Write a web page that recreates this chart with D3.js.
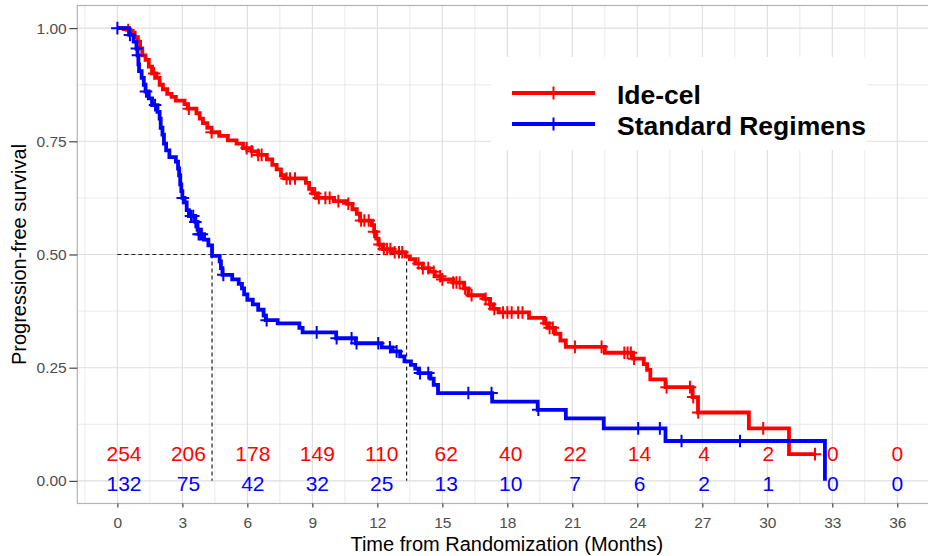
<!DOCTYPE html>
<html><head><meta charset="utf-8">
<script src="https://cdn.jsdelivr.net/npm/d3@7"></script>
<style>body{margin:0;background:#fff} svg{display:block;font-family:"Liberation Sans",Arial,sans-serif}</style>
</head><body><svg id="c" width="928" height="556"></svg>
<script>
// ---------------- data ----------------
const seriesNames = ["Ide-cel", "Standard Regimens"];
const seriesColors = ["#FF0000", "#0000FF"];

const ideTime = [0,0.45,0.6,0.8,0.95,1.05,1.15,1.3,1.45,1.6,1.8,1.95,2.1,2.3,2.5,2.7,3.1,3.25,3.65,3.8,3.95,4.15,4.35,4.7,5.1,5.5,5.8,6.2,6.5,6.9,7.15,7.35,7.55,7.7,8.7,8.85,9.0,9.2,10.0,10.6,10.85,11.05,11.2,11.75,11.85,11.95,12.05,12.25,12.7,13.3,13.5,13.75,14.1,14.4,14.65,14.95,15.5,16.0,16.2,16.9,17.2,17.35,17.6,19.0,19.7,19.9,20.2,20.45,20.7,22.5,23.8,24.3,24.45,24.6,25.3,26.55,26.8,29.15,31.0,32.2];
const ideSurv = [1,0.996,0.99,0.98,0.97,0.955,0.94,0.93,0.915,0.9,0.89,0.875,0.865,0.855,0.848,0.84,0.832,0.822,0.812,0.8,0.79,0.78,0.77,0.762,0.752,0.745,0.735,0.728,0.72,0.71,0.698,0.688,0.675,0.668,0.658,0.645,0.635,0.625,0.618,0.612,0.6,0.59,0.575,0.565,0.55,0.535,0.522,0.512,0.505,0.496,0.49,0.48,0.47,0.462,0.452,0.445,0.438,0.425,0.41,0.402,0.39,0.38,0.372,0.36,0.348,0.338,0.325,0.31,0.296,0.283,0.27,0.258,0.245,0.224,0.207,0.185,0.151,0.116,0.059,0.059];
const ideCensor = [0.5,1.7,3.3,4.35,5.97,6.2,6.5,6.66,7.81,7.97,8.2,9.13,9.3,9.6,9.8,10.2,10.66,11.25,11.4,11.6,11.85,12.1,12.3,12.45,12.6,12.8,13.0,13.15,13.9,14.1,14.35,14.6,14.9,15.0,15.5,15.65,15.8,16.05,16.35,17.0,17.2,17.4,17.8,18.0,18.2,18.5,18.7,19.8,19.95,20.1,21.12,22.35,23.4,23.55,23.7,23.85,25.35,26.43,26.58,26.81,29.81,32.2];

const stdTime = [0,0.55,0.75,0.88,0.93,0.97,1.0,1.12,1.22,1.3,1.45,1.6,1.85,1.95,2.0,2.08,2.15,2.25,2.4,2.7,2.8,2.85,2.9,2.95,3.0,3.1,3.2,3.3,3.6,3.7,3.75,4.0,4.2,4.37,4.72,4.78,4.85,5.3,5.6,5.75,5.85,6.0,6.25,6.5,6.75,6.85,7.4,8.4,8.55,10.1,11.0,12.2,12.7,13.05,13.25,13.55,13.75,13.9,14.45,14.6,14.8,17.3,19.4,20.7,22.45,25.3,32.66];
const stdSurv = [1,0.985,0.97,0.955,0.94,0.92,0.905,0.89,0.875,0.86,0.845,0.83,0.815,0.8,0.78,0.765,0.745,0.73,0.715,0.705,0.69,0.675,0.655,0.64,0.625,0.615,0.598,0.585,0.572,0.555,0.545,0.533,0.52,0.497,0.485,0.47,0.455,0.445,0.435,0.425,0.412,0.4,0.39,0.378,0.365,0.355,0.348,0.338,0.328,0.315,0.304,0.295,0.286,0.275,0.264,0.256,0.248,0.238,0.226,0.212,0.194,0.175,0.157,0.138,0.116,0.088,0];
const stdCensor = [0,0.58,0.9,0.95,1.32,1.74,3.02,3.4,3.5,3.6,3.75,3.82,3.9,4.89,6.89,9.2,10.12,10.81,11.04,12.04,12.58,12.89,13.97,14.35,16.2,17.27,19.43,24.04,25.04,26.04,28.74];

const medianTimes = [4.37, 13.35];
const xTicks = [0,3,6,9,12,15,18,21,24,27,30,33,36];
const yTicks = [0,0.25,0.5,0.75,1];
const yTickLabels = ["0.00","0.25","0.50","0.75","1.00"];
const riskTimes = [0,3,6,9,12,15,18,21,24,27,30,33,36];
const riskIde = [254,206,178,149,110,62,40,22,14,4,2,0,0];
const riskStd = [132,75,42,32,25,13,10,7,6,2,1,0,0];
const xTitle = "Time from Randomization (Months)";
const yTitle = "Progression-free survival";

// ---------------- chart ----------------
const svg = d3.select("#c");
const x = d3.scaleLinear().domain([-1.85, 37.8]).range([77.3, 936.3]);
const y = d3.scaleLinear().domain([-0.05, 1.05]).range([503.5, 5.5]);
const xRisk = d3.scaleLinear().domain([0, 36]).range([x(0) + 6.6, x(36)]);
const [px0, px1] = x.range();
const [py1, py0] = y.range();

svg.append("rect").attr("width", 928).attr("height", 556).attr("fill", "#fff");

svg.append("defs").append("clipPath").attr("id", "pc")
  .append("rect").attr("x", px0).attr("y", py0).attr("width", px1 - px0).attr("height", py1 - py0);

const grid = svg.append("g");
const xMinor = d3.range(-1.5, 38, 3);
const yMinor = [0.125, 0.375, 0.625, 0.875];
grid.selectAll(".vm").data(xMinor).join("line")
  .attr("x1", d => x(d)).attr("x2", d => x(d)).attr("y1", py0).attr("y2", py1)
  .attr("stroke", "#e6e6e6").attr("stroke-width", 0.8);
grid.selectAll(".hm").data(yMinor).join("line")
  .attr("y1", d => y(d)).attr("y2", d => y(d)).attr("x1", px0).attr("x2", px1)
  .attr("stroke", "#e6e6e6").attr("stroke-width", 0.8);
grid.selectAll(".vM").data(xTicks).join("line")
  .attr("x1", d => x(d)).attr("x2", d => x(d)).attr("y1", py0).attr("y2", py1)
  .attr("stroke", "#dedede").attr("stroke-width", 1.1);
grid.selectAll(".hM").data(yTicks).join("line")
  .attr("y1", d => y(d)).attr("y2", d => y(d)).attr("x1", px0).attr("x2", px1)
  .attr("stroke", "#dedede").attr("stroke-width", 1.1);

// median dashed lines
const dash = svg.append("g").attr("stroke", "#222").attr("stroke-width", 1.2).attr("stroke-dasharray", "4,3").attr("fill", "none");
dash.append("line").attr("x1", x(0)).attr("x2", x(d3.max(medianTimes))).attr("y1", y(0.5)).attr("y2", y(0.5));
dash.selectAll(".mv").data(medianTimes).join("line")
  .attr("x1", d => x(d)).attr("x2", d => x(d)).attr("y1", y(0.5)).attr("y2", y(0));

// curves
const curves = svg.append("g").attr("clip-path", "url(#pc)");
const stepLine = d3.line().x(d => x(d[0])).y(d => y(d[1])).curve(d3.curveStepAfter);
const series = [
  {t: ideTime, s: ideSurv, c: ideCensor, col: seriesColors[0]},
  {t: stdTime, s: stdSurv, c: stdCensor, col: seriesColors[1]}
];
function survAt(sr, t) {
  const i = d3.bisectRight(sr.t, t) - 1;
  return sr.s[Math.max(0, i)];
}
const plus = (g, cx, cy, col, h, w) => {
  g.append("line").attr("x1", cx - h).attr("x2", cx + h).attr("y1", cy).attr("y2", cy).attr("stroke", col).attr("stroke-width", w);
  g.append("line").attr("x1", cx).attr("x2", cx).attr("y1", cy - h).attr("y2", cy + h).attr("stroke", col).attr("stroke-width", w);
};
series.forEach(sr => {
  curves.append("path").datum(sr.t.map((t, i) => [t, sr.s[i]]))
    .attr("d", stepLine).attr("fill", "none").attr("stroke", sr.col)
    .attr("stroke-width", 3.8).attr("stroke-linejoin", "miter");
  const cg = curves.append("g");
  sr.c.forEach(t => plus(cg, x(t), y(survAt(sr, t)), sr.col, 6.3, 2));
});

// panel border
svg.append("rect").attr("x", px0).attr("y", py0).attr("width", px1 - px0).attr("height", py1 - py0)
  .attr("fill", "none").attr("stroke", "#b3b3b3").attr("stroke-width", 1.2);

// axes
const xAxis = svg.append("g").attr("transform", `translate(0,${py1})`)
  .call(d3.axisBottom(x).tickValues(xTicks).tickSize(4).tickPadding(9).tickFormat(d3.format("d")));
const yAxis = svg.append("g").attr("transform", `translate(${px0},0)`)
  .call(d3.axisLeft(y).tickValues(yTicks).tickSize(8).tickPadding(2.6).tickFormat((d, i) => yTickLabels[i]));
[xAxis, yAxis].forEach(a => {
  a.select(".domain").remove();
  a.selectAll(".tick line").attr("stroke", "#333").attr("stroke-width", 1.1);
  a.selectAll(".tick text").attr("fill", "#4d4d4d").style("font-size", "15.5px")
    .style("font-family", '"Liberation Sans",Arial,sans-serif');
});

// axis titles
svg.append("text").attr("x", (px0 + px1) / 2).attr("y", 551).attr("text-anchor", "middle")
  .style("font-size", "20px").attr("fill", "#000").text(xTitle);
svg.append("text").attr("transform", `translate(26,${(py0 + py1) / 2}) rotate(-90)`).attr("text-anchor", "middle")
  .style("font-size", "20px").attr("fill", "#000").text(yTitle);

// risk table numbers
const risk = svg.append("g").attr("text-anchor", "middle").style("font-size", "21px");
risk.selectAll(".ri").data(riskTimes).join("text")
  .attr("x", d => xRisk(d)).attr("y", y(0.06)).attr("dy", "0.36em")
  .attr("fill", seriesColors[0]).text((d, i) => riskIde[i]);
risk.selectAll(".rs").data(riskTimes).join("text")
  .attr("x", d => xRisk(d)).attr("y", y(-0.005)).attr("dy", "0.36em")
  .attr("fill", seriesColors[1]).text((d, i) => riskStd[i]);

// legend
const lg = svg.append("g");
lg.append("rect").attr("x", 491).attr("y", 57).attr("width", 376).attr("height", 93).attr("fill", "#fff");
seriesNames.forEach((name, i) => {
  const cy = 93 + i * 31;
  lg.append("line").attr("x1", 512).attr("x2", 595).attr("y1", cy).attr("y2", cy)
    .attr("stroke", seriesColors[i]).attr("stroke-width", 4);
  plus(lg, 553.5, cy, seriesColors[i], 6.5, 2);
  lg.append("text").attr("x", 617).attr("y", cy + 11).style("font-size", "26.5px").style("font-weight", "bold")
    .attr("fill", "#000").text(name);
});
</script>
</body></html>
